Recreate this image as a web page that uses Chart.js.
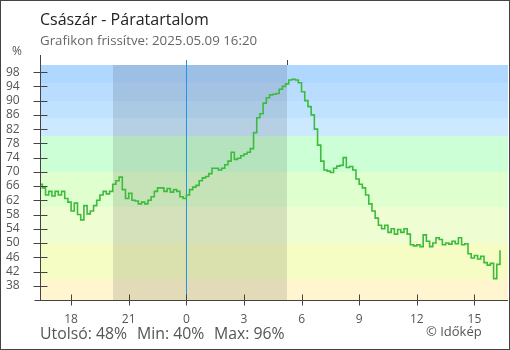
<!DOCTYPE html>
<html>
<head>
<meta charset="utf-8">
<title>Császár - Páratartalom</title>
<script src="https://cdn.jsdelivr.net/npm/chart.js@4.4.0/dist/chart.umd.min.js"></script>
<style>
    body { margin: 0; background: #fff; font-family: 'Open Sans', sans-serif; }
    #wrap { position: relative; width: 510px; height: 350px; overflow: hidden; }
    #chart { position: absolute; left: 0; top: 0; }
    #frame { position: absolute; left: 0; top: 0; width: 510px; height: 350px; box-sizing: border-box; border: 1px solid #444; pointer-events: none; }
    .txt { position: absolute; white-space: nowrap; }
    #title { left: 40px; top: 11px; font-size: 16px; line-height: 16px; color: #222; }
    #subtitle { left: 40px; top: 34px; font-size: 13.3px; line-height: 13px; color: #666; }
    #unit { left: 12px; top: 45px; font-size: 12px; line-height: 12px; color: #555; }
    .stat { top: 326px; font-size: 15.8px; line-height: 15px; color: #555; }
    #last { left: 40px; }
    #min { left: 137px; }
    #max { left: 214px; }
    #copy { left: 426px; top: 325px; font-size: 13px; line-height: 13px; color: #555; }
</style>
</head>
<body>
<div id="wrap">
    <canvas id="chart" width="510" height="350"></canvas>
    <div class="txt" id="title">Császár - Páratartalom</div>
    <div class="txt" id="subtitle">Grafikon frissítve: 2025.05.09 16:20</div>
    <div class="txt" id="unit">%</div>
    <div class="txt stat" id="last">Utolsó: 48%</div>
    <div class="txt stat" id="min">Min: 40%</div>
    <div class="txt stat" id="max">Max: 96%</div>
    <div class="txt" id="copy">© Időkép</div>
    <div id="frame"></div>
</div>
<script>
// Relative humidity (%), one reading every 10 minutes from 16:20 the previous day
const startHour = -7.667;          // hours relative to midnight
const stepHours = 1 / 6;
const humidity = [
    66.5, 65.5, 63.5, 64.5, 63.2, 64.5, 63.5, 64.5, 62.5, 61.5,
    59, 61.2, 58, 56.5, 60.5, 58.2, 59, 60.5, 62, 63.5,
    64.5, 63.8, 64.5, 66.5, 67.5, 68.5, 65, 62.5, 64, 62,
    61.8, 61, 61.5, 61, 62, 63, 64.5, 65.5, 65.5, 64.5,
    65.3, 64.3, 65, 64.5, 63, 62.5, 63.5, 65, 65.7, 66.2,
    67.5, 68.3, 68.7, 69.5, 71, 71, 70.5, 71, 72, 73,
    75.5, 73.5, 73.8, 74.5, 75, 75.5, 76.5, 81, 85.2, 86.3,
    89.3, 90.8, 91.6, 91.8, 92, 93.2, 94, 94.7, 95.8, 96,
    95.8, 95, 92.5, 90, 88.3, 86, 82, 77.5, 73, 70.5,
    70.2, 69.8, 71, 71.6, 71.8, 74, 71.2, 71.5, 70.5, 68,
    66.5, 65.5, 63.5, 61, 59, 57, 55, 54, 55, 53,
    54, 52.5, 53.8, 53, 54, 52.5, 49.5, 49.2, 49.5, 49,
    52.3, 50.5, 49, 50, 51.5, 51, 49.5, 50, 49.7, 50.5,
    49.8, 51.5, 49.5, 49.8, 47, 45.8, 46.5, 45.5, 46.3, 44.5,
    43.8, 44.3, 40, 44, 48
];

// Axis ranges and ticks
const xRange = [-7.62, 16.75];
const xTicks = [-6, -3, 0, 3, 6, 9, 12, 15];
const yRange = [34, 100];
const yTicks = [38, 42, 46, 50, 54, 58, 62, 66, 70, 74, 78, 82, 86, 90, 94, 98];

// Background bands (lower edges) and night period
const bandEdges = [34, 40, 50, 60, 70, 80, 85, 90, 95, 100];
const bandColors = ['#fff6cf', '#f5fdc4', '#effdd2', '#dfffcf', '#ccffd6', '#cde9ff', '#bfe3ff', '#b9dcff', '#b0d7ff'];
const nightStart = -3.82;
const nightEnd = 5.24;

const points = humidity.map((v, i) => ({ x: startHour + i * stepHours, y: v }));

const backgroundPlugin = {
    id: 'background',
    beforeDatasetsDraw(chart) {
        const { ctx, chartArea: a, scales: { x, y } } = chart;
        ctx.save();
        for (let i = 0; i < bandColors.length; i++) {
            const top = Math.round(y.getPixelForValue(bandEdges[i + 1]));
            const bottom = Math.round(y.getPixelForValue(bandEdges[i]));
            ctx.fillStyle = bandColors[i];
            ctx.fillRect(a.left, top, a.right - a.left, bottom - top);
        }
        // night shading
        const n1 = Math.round(x.getPixelForValue(nightStart));
        const n2 = Math.round(x.getPixelForValue(nightEnd));
        ctx.fillStyle = 'rgba(0,0,0,0.11)';
        ctx.fillRect(n1, a.top, n2 - n1, a.bottom - a.top);
        // midnight line
        const mx = Math.round(x.getPixelForValue(0)) + 0.5;
        ctx.strokeStyle = '#2196e6';
        ctx.lineWidth = 1;
        ctx.beginPath();
        ctx.moveTo(mx, a.top - 5);
        ctx.lineTo(mx, a.bottom);
        ctx.stroke();
        ctx.restore();
    },
    afterDraw(chart) {
        const { ctx, chartArea: a, scales: { x, y } } = chart;
        const ax = Math.round(a.left) + 0.5;
        const ay = Math.round(a.bottom) + 0.5;
        ctx.save();
        ctx.strokeStyle = '#444';
        ctx.lineWidth = 1;
        ctx.beginPath();
        // axis lines
        ctx.moveTo(ax, a.top - 10);
        ctx.lineTo(ax, ay);
        ctx.moveTo(ax - 6, ay);
        ctx.lineTo(a.right, ay);
        // y tick crosses
        yTicks.forEach(v => {
            const py = Math.round(y.getPixelForValue(v)) + 0.5;
            ctx.moveTo(ax - 7, py);
            ctx.lineTo(ax + 7, py);
        });
        // x tick crosses
        xTicks.forEach(v => {
            const px = Math.round(x.getPixelForValue(v)) + 0.5;
            ctx.moveTo(px, ay - 6);
            ctx.lineTo(px, ay + 5);
        });
        // sunrise marker above the plot
        const sx = Math.round(x.getPixelForValue(nightEnd)) + 0.5;
        ctx.moveTo(sx, a.top - 5);
        ctx.lineTo(sx, a.top);
        ctx.stroke();
        ctx.restore();
    }
};

const tickFont = { family: "'Open Sans', sans-serif", size: 12 };

new Chart(document.getElementById('chart'), {
    type: 'line',
    data: {
        datasets: [{
            data: points,
            borderColor: '#3dbb3d',
            borderWidth: 1.6,
            pointRadius: 0,
            stepped: true,
            fill: false
        }]
    },
    options: {
        responsive: false,
        animation: false,
        events: [],
        layout: { padding: { left: 6, top: 65, right: 2, bottom: 0 } },
        scales: {
            x: {
                type: 'linear',
                min: xRange[0],
                max: xRange[1],
                afterBuildTicks: s => { s.ticks = xTicks.map(v => ({ value: v })); },
                afterFit: s => { s.height = 50; },
                grid: { display: false },
                border: { display: false },
                ticks: {
                    autoSkip: false,
                    maxRotation: 0,
                    padding: 4,
                    color: '#555',
                    font: tickFont,
                    callback: v => String(((v % 24) + 24) % 24)
                }
            },
            y: {
                min: yRange[0],
                max: yRange[1],
                afterBuildTicks: s => { s.ticks = yTicks.map(v => ({ value: v })); },
                afterFit: s => { s.width = 34; },
                grid: { display: false },
                border: { display: false },
                ticks: {
                    autoSkip: false,
                    crossAlign: 'far',
                    color: '#555',
                    font: tickFont
                }
            }
        },
        plugins: {
            legend: { display: false },
            tooltip: { enabled: false }
        }
    },
    plugins: [backgroundPlugin]
});
</script>
</body>
</html>
